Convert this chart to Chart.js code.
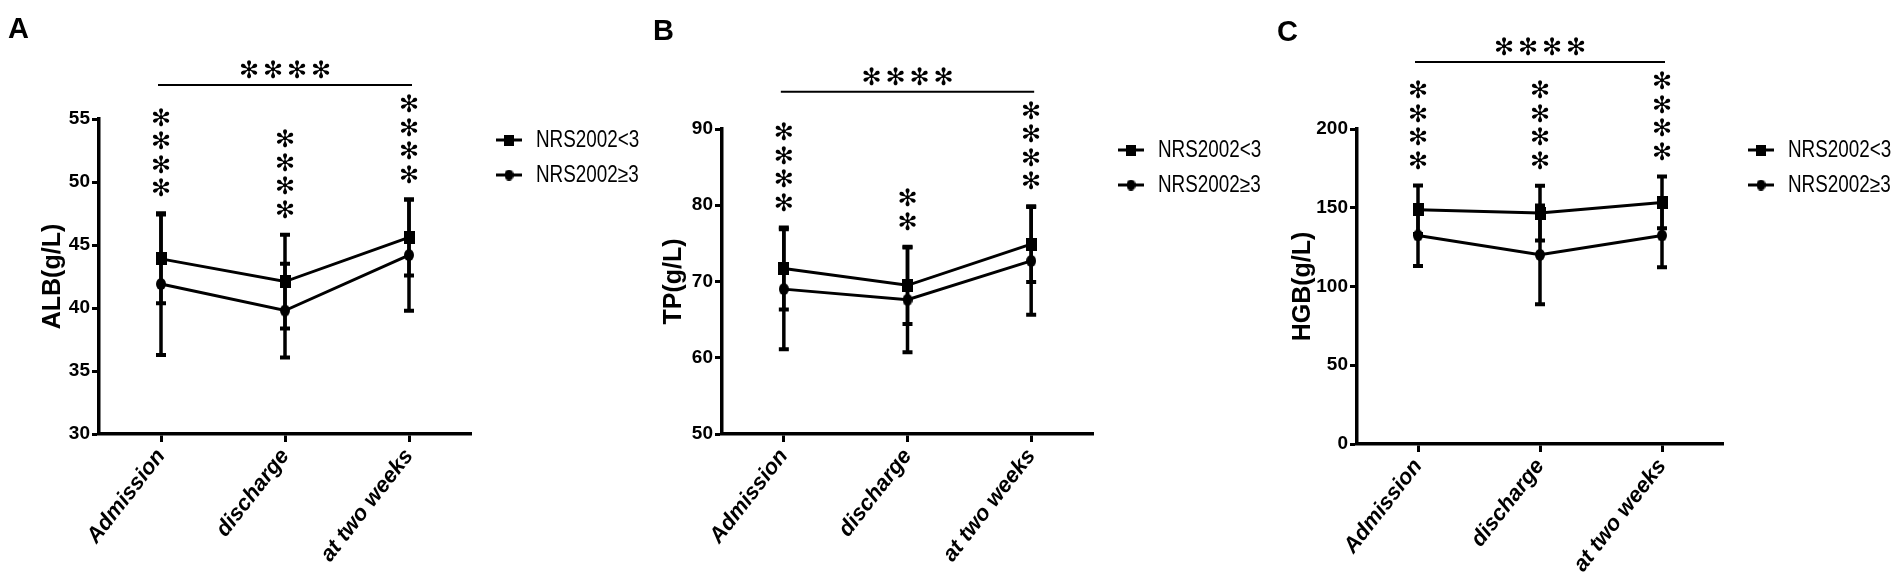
<!DOCTYPE html>
<html><head><meta charset="utf-8">
<script src="https://cdn.jsdelivr.net/npm/chart.js@4.4.1/dist/chart.umd.min.js"></script>
<style>
html,body{margin:0;padding:0;background:#fff;width:1904px;height:579px;overflow:hidden;}
canvas{position:absolute;top:0;}
</style></head><body>
<canvas id="cA" width="640" height="579" style="left:0px"></canvas>
<canvas id="cB" width="640" height="579" style="left:640px"></canvas>
<canvas id="cC" width="664" height="579" style="left:1240px"></canvas>
<script>
// ---------- data ----------
const categories = ['Admission', 'discharge', 'at two weeks'];
const seriesNames = ['NRS2002<3', 'NRS2002≥3'];

const albLow = [43.9, 42.1, 45.6];
const albLowSD = [3.6, 3.8, 3.1];
const albHigh = [41.9, 39.8, 44.2];
const albHighSD = [5.7, 3.8, 4.5];
const albTicks = [30, 35, 40, 45, 50, 55];
const albStars = [4, 4, 4];

const tpLow = [71.7, 69.5, 74.9];
const tpLowSD = [5.5, 5.2, 5.1];
const tpHigh = [69.0, 67.6, 72.7];
const tpHighSD = [8.0, 7.0, 7.2];
const tpTicks = [50, 60, 70, 80, 90];
const tpStars = [4, 2, 4];

const hgbLow = [148.7, 146.6, 153.4];
const hgbLowSD = [16.0, 18.0, 17.0];
const hgbHigh = [132.4, 120.1, 132.4];
const hgbHighSD = [20.0, 32.0, 20.8];
const hgbTicks = [0, 50, 100, 150, 200];
const hgbStars = [4, 4, 4];

const overallStars = [4, 4, 4];
const panelLetters = ['A', 'B', 'C'];
const yTitles = ['ALB(g/L)', 'TP(g/L)', 'HGB(g/L)'];

// ---------- helpers ----------
const FONT = '"Liberation Sans", Arial, Helvetica, sans-serif';
Chart.defaults.font.family = FONT;
Chart.defaults.color = '#000';

function makeMarker(kind, w, h) {
  const c = document.createElement('canvas');
  c.width = w; c.height = h;
  const x = c.getContext('2d');
  x.fillStyle = '#000';
  if (kind === 'rect') { x.fillRect(0, 0, w, h); }
  else { x.beginPath(); x.ellipse(w / 2, h / 2, w / 2, h / 2, 0, 0, Math.PI * 2); x.fill(); }
  return c;
}
const markerSq = makeMarker('rect', 11, 13);
const markerCi = makeMarker('circle', 10, 12);
const legSq = makeMarker('rect', 10, 11);
const legCi = makeMarker('circle', 9, 11);

const errorBars = {
  id: 'errorBars',
  beforeDatasetsDraw(chart) {
    const {ctx, scales: {x, y}} = chart;
    ctx.save();
    ctx.strokeStyle = '#000'; ctx.lineCap = 'butt';
    chart.data.datasets.forEach(ds => {
      ds.data.forEach((v, i) => {
        const e = ds.errors[i];
        const px = x.getPixelForValue(i);
        const yt = y.getPixelForValue(v + e), yb = y.getPixelForValue(v - e);
        ctx.lineWidth = 3.5;
        ctx.beginPath();
        ctx.moveTo(px, yt); ctx.lineTo(px, yb);
        ctx.stroke();
        ctx.lineWidth = 4;
        ctx.beginPath();
        ctx.moveTo(px - 5, yt + 1); ctx.lineTo(px + 5, yt + 1);
        ctx.moveTo(px - 5, yb - 1); ctx.lineTo(px + 5, yb - 1);
        ctx.stroke();
      });
    });
    ctx.restore();
  }
};

const STAR = '\u273B';
const annotations = {
  id: 'annot',
  afterDraw(chart, args, opts) {
    const {ctx, chartArea, scales: {x, y}} = chart;
    ctx.save();
    ctx.fillStyle = '#000'; ctx.strokeStyle = '#000';
    ctx.font = '24px "DejaVu Sans"';
    ctx.textAlign = 'center'; ctx.textBaseline = 'middle';
    let topMost = Infinity;
    opts.stars.forEach((n, i) => {
      let maxV = -Infinity;
      chart.data.datasets.forEach(ds => { maxV = Math.max(maxV, ds.data[i] + ds.errors[i]); });
      const px = x.getPixelForValue(i);
      const base = y.getPixelForValue(maxV) - 22;
      for (let k = 0; k < n; k++) {
        const cy = base - k * 23.5;
        ctx.fillText(STAR, px, cy);
        topMost = Math.min(topMost, cy);
      }
    });
    // overall significance bar
    const ly = topMost - 21;
    const x1 = x.getPixelForValue(0) - 3, x2 = x.getPixelForValue(categories.length - 1) + 3;
    ctx.lineWidth = 2;
    ctx.beginPath(); ctx.moveTo(x1, ly); ctx.lineTo(x2, ly); ctx.stroke();
    const mid = (x1 + x2) / 2;
    for (let k = 0; k < opts.overall; k++) {
      ctx.fillText(STAR, mid + (k - (opts.overall - 1) / 2) * 24, ly - 13);
    }
    // legend
    const lx = chartArea.right + 25;
    const legMarks = [legSq, legCi];
    chart.data.datasets.forEach((ds, j) => {
      const ry = chartArea.top + 21 + j * 35;
      ctx.lineWidth = 3;
      ctx.beginPath(); ctx.moveTo(lx, ry); ctx.lineTo(lx + 26, ry); ctx.stroke();
      const m = legMarks[j];
      ctx.drawImage(m, lx + 13 - m.width / 2, ry - m.height / 2);
      ctx.save();
      ctx.translate(lx + 40, ry + 1);
      ctx.scale(0.82, 1);
      ctx.font = '23px ' + FONT;
      ctx.textAlign = 'left'; ctx.textBaseline = 'middle';
      ctx.fillText(ds.label, 0, 0);
      ctx.restore();
    });
    // panel letter
    ctx.font = 'bold 29px ' + FONT;
    ctx.textAlign = 'left'; ctx.textBaseline = 'alphabetic';
    ctx.fillText(opts.letter, opts.letterX, opts.letterY);
    ctx.restore();
  }
};

function makePanel(id, cfg) {
  const ticks = cfg.ticks;
  return new Chart(document.getElementById(id), {
    type: 'line',
    data: {
      labels: categories,
      datasets: [
        {label: seriesNames[0], data: cfg.low, errors: cfg.lowSD, borderColor: '#000', backgroundColor: '#000',
         borderWidth: 3, pointStyle: markerSq, tension: 0, fill: false},
        {label: seriesNames[1], data: cfg.high, errors: cfg.highSD, borderColor: '#000', backgroundColor: '#000',
         borderWidth: 3, pointStyle: markerCi, tension: 0, fill: false}
      ]
    },
    options: {
      responsive: false, animation: false, maintainAspectRatio: false,
      layout: {padding: {top: cfg.top, right: cfg.right, bottom: 0, left: 0}},
      plugins: {
        legend: {display: false}, tooltip: {enabled: false},
        annot: {stars: cfg.stars, overall: cfg.overall, letter: cfg.letter, letterX: cfg.letterX, letterY: cfg.letterY}
      },
      scales: {
        x: {
          type: 'category', offset: true,
          grid: {display: true, drawOnChartArea: false, offset: false, tickLength: 8, tickWidth: 3, tickColor: '#000'},
          border: {display: true, color: '#000', width: 3.5},
          ticks: {autoSkip: false, minRotation: 52, maxRotation: 52, padding: 2,
                  font: {family: FONT, size: 22, weight: 'bold', style: 'italic'}, color: '#000'},
          afterFit: s => { s.height = cfg.xH; }
        },
        y: {
          min: ticks[0], max: ticks[ticks.length - 1],
          grid: {display: true, drawOnChartArea: false, tickLength: 7, tickWidth: 3, tickColor: '#000'},
          border: {display: true, color: '#000', width: 3.5},
          ticks: {stepSize: ticks[1] - ticks[0], padding: 2, font: {family: FONT, size: 19, weight: 'bold'}, color: '#000'},
          title: {display: true, text: cfg.title, font: {family: FONT, size: 25, weight: 'bold'}, color: '#000',
                  padding: {top: cfg.titlePad, bottom: 0}},
          afterFit: s => { s.width = cfg.yW; }
        }
      }
    },
    plugins: [errorBars, annotations]
  });
}

makePanel('cA', {low: albLow, lowSD: albLowSD, high: albHigh, highSD: albHighSD, ticks: albTicks,
  stars: albStars, overall: overallStars[0], letter: panelLetters[0], letterX: 8, letterY: 38,
  title: yTitles[0], titlePad: 38, top: 119, right: 169, xH: 145, yW: 99});
makePanel('cB', {low: tpLow, lowSD: tpLowSD, high: tpHigh, highSD: tpHighSD, ticks: tpTicks,
  stars: tpStars, overall: overallStars[1], letter: panelLetters[1], letterX: 13, letterY: 40,
  title: yTitles[1], titlePad: 19, top: 129, right: 187, xH: 145, yW: 82});
makePanel('cC', {low: hgbLow, lowSD: hgbLowSD, high: hgbHigh, highSD: hgbHighSD, ticks: hgbTicks,
  stars: hgbStars, overall: overallStars[2], letter: panelLetters[2], letterX: 37, letterY: 41,
  title: yTitles[2], titlePad: 48, top: 129, right: 181, xH: 135, yW: 117});
</script>
</body></html>
